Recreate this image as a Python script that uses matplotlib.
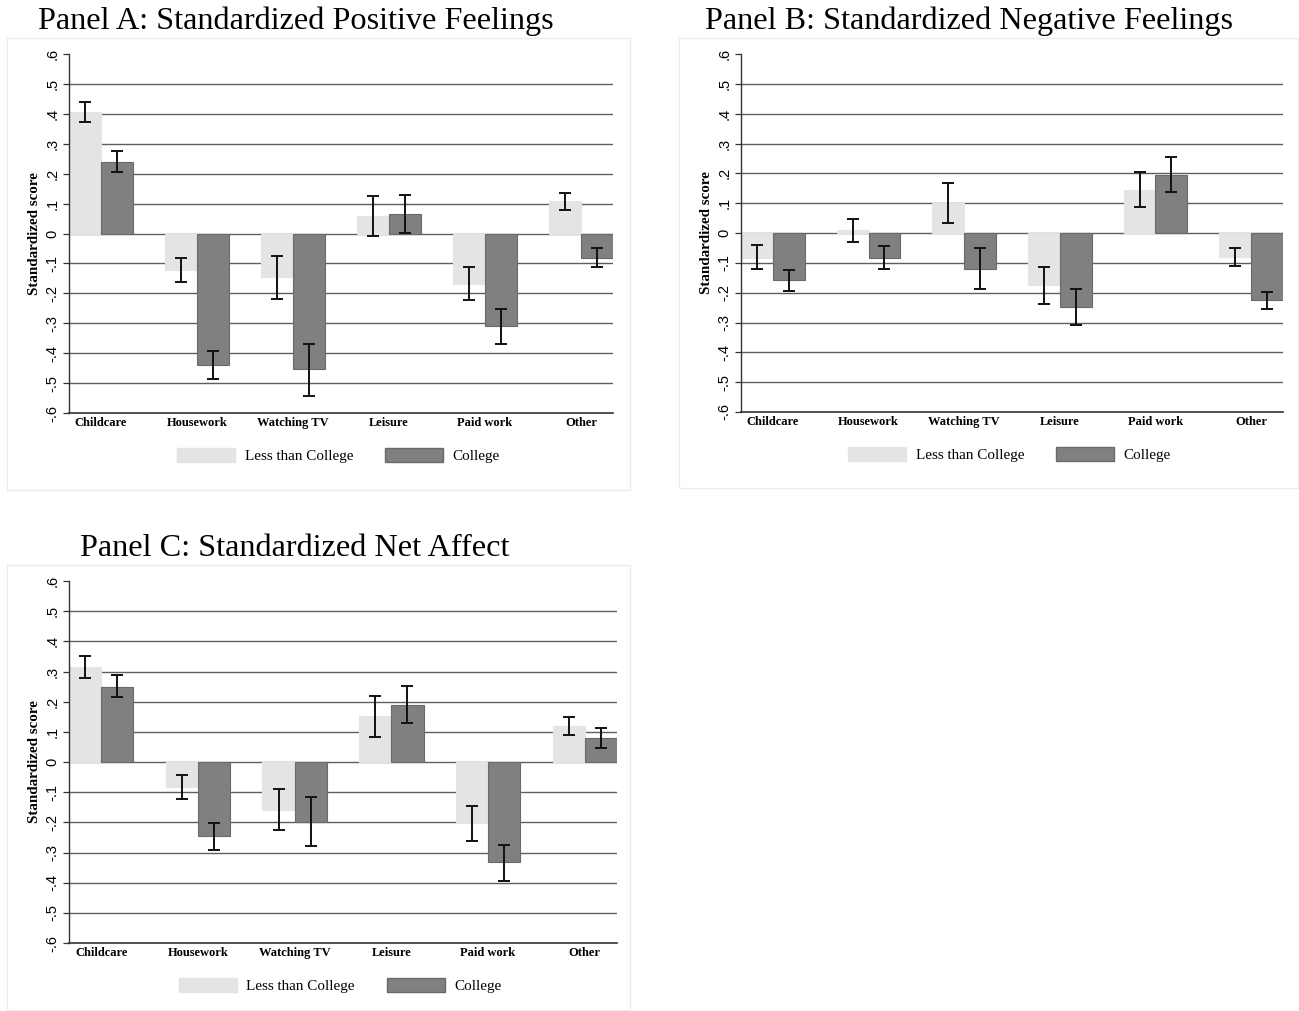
import matplotlib
matplotlib.use("Agg")
import matplotlib.pyplot as plt
from matplotlib.patches import Rectangle, Patch
import numpy as np

categories = ["Childcare", "Housework", "Watching TV", "Leisure", "Paid work", "Other"]
series_names = ["Less than College", "College"]

# Panel A: positive feelings
posA_less = [0.406, -0.121, -0.146, 0.057, -0.168, 0.108]
posA_less_lo = [0.372, -0.163, -0.218, -0.009, -0.223, 0.079]
posA_less_hi = [0.439, -0.081, -0.074, 0.124, -0.112, 0.137]
posA_col = [0.240, -0.440, -0.454, 0.066, -0.310, -0.082]
posA_col_lo = [0.207, -0.488, -0.543, 0.003, -0.370, -0.113]
posA_col_hi = [0.277, -0.394, -0.368, 0.129, -0.254, -0.050]

# Panel B: negative feelings
negB_less = [-0.083, 0.009, 0.099, -0.175, 0.144, -0.080]
negB_less_lo = [-0.122, -0.030, 0.032, -0.238, 0.087, -0.110]
negB_less_hi = [-0.041, 0.048, 0.167, -0.114, 0.204, -0.051]
negB_col = [-0.158, -0.083, -0.119, -0.248, 0.194, -0.225]
negB_col_lo = [-0.195, -0.122, -0.189, -0.310, 0.136, -0.256]
negB_col_hi = [-0.123, -0.042, -0.051, -0.189, 0.256, -0.198]

# Panel C: net affect
netC_less = [0.314, -0.083, -0.158, 0.152, -0.202, 0.119]
netC_less_lo = [0.278, -0.123, -0.225, 0.084, -0.262, 0.089]
netC_less_hi = [0.353, -0.044, -0.090, 0.219, -0.147, 0.148]
netC_col = [0.250, -0.244, -0.200, 0.189, -0.333, 0.079]
netC_col_lo = [0.215, -0.291, -0.280, 0.129, -0.393, 0.048]
netC_col_hi = [0.288, -0.203, -0.117, 0.252, -0.274, 0.113]

ytick_vals = [-0.6, -0.5, -0.4, -0.3, -0.2, -0.1, 0, 0.1, 0.2, 0.3, 0.4, 0.5, 0.6]
ytick_labels = ["-.6", "-.5", "-.4", "-.3", "-.2", "-.1", "0", ".1", ".2", ".3", ".4", ".5", ".6"]

LIGHT = "#e4e4e4"
DARK = "#808080"
DARK_EDGE = "#6a6a6a"
GRID = "#5e5e5e"
SERIF = ["Liberation Serif", "DejaVu Serif"]
SANS = ["Liberation Sans", "DejaVu Sans"]

W, H = 1299, 1011
fig = plt.figure(figsize=(W / 100, H / 100), dpi=100)


def px_axes(x0, y0, x1, y1):
    return fig.add_axes([x0 / W, 1 - y1 / H, (x1 - x0) / W, (y1 - y0) / H])


def frame(x0, y0, x1, y1):
    fig.patches.append(Rectangle((x0 / W, 1 - y1 / H), (x1 - x0) / W, (y1 - y0) / H,
                                 transform=fig.transFigure, fill=False,
                                 edgecolor="#ececec", linewidth=1.0, zorder=0))


def panel(ax, less, less_lo, less_hi, col, col_lo, col_hi):
    x = np.arange(len(categories))
    w = 1 / 3
    less = np.array(less); col = np.array(col)
    ax.bar(x - w / 2, less, width=w, color=LIGHT, edgecolor=LIGHT, linewidth=0.8, zorder=2,
           label=series_names[0])
    ax.bar(x + w / 2, col, width=w, color=DARK, edgecolor=DARK_EDGE, linewidth=0.8, zorder=2,
           label=series_names[1])
    for xs, lo, hi in ((x - w / 2, less_lo, less_hi), (x + w / 2, col_lo, col_hi)):
        lo = np.array(lo); hi = np.array(hi)
        mid = (lo + hi) / 2
        ax.errorbar(xs, mid, yerr=[mid - lo, hi - mid], fmt="none", ecolor="#111111",
                    elinewidth=1.4, capsize=4, capthick=1.4, zorder=3)
    ax.set_xlim(-1 / 3, len(categories) - 1 + 1 / 3)
    ax.set_ylim(-0.6, 0.6)
    for g in ytick_vals[1:-1]:
        ax.axhline(g, color=GRID, linewidth=1.0, zorder=1)
    ax.set_yticks(ytick_vals)
    ax.set_yticklabels(ytick_labels, rotation=90, va="center", family=SANS, fontsize=10.5)
    ax.set_xticks(x)
    ax.set_xticklabels(categories, family=SERIF, fontweight="bold", fontsize=9)
    ax.tick_params(axis="x", length=0, pad=3)
    ax.tick_params(axis="y", length=4, width=0.9, color="#333333", pad=3)
    for s in ("top", "right"):
        ax.spines[s].set_visible(False)
    ax.spines["left"].set_color("#333333")
    ax.spines["bottom"].set_color("#333333")
    ax.spines["left"].set_linewidth(1.0)
    ax.spines["bottom"].set_linewidth(1.2)
    ax.set_ylabel("Standardized score", family=SERIF, fontweight="bold", fontsize=10.8, labelpad=3)
    handles = [Patch(facecolor=LIGHT, edgecolor=LIGHT), Patch(facecolor=DARK, edgecolor=DARK_EDGE)]
    ax.legend(handles, series_names, loc="center", bbox_to_anchor=(0.495, -0.118), ncol=2,
              frameon=False, prop={"family": SERIF, "size": 10.9},
              handlelength=3.85, handleheight=1.05, handletextpad=0.6, columnspacing=2.1)


# frames
frame(7, 38, 630, 490)
frame(679, 38, 1298, 488)
frame(7, 565, 630, 1010)

axA = px_axes(69, 54, 613, 413)
panel(axA, posA_less, posA_less_lo, posA_less_hi, posA_col, posA_col_lo, posA_col_hi)
axB = px_axes(741, 54, 1283, 412)
panel(axB, negB_less, negB_less_lo, negB_less_hi, negB_col, negB_col_lo, negB_col_hi)
axC = px_axes(69, 581, 617, 943)
panel(axC, netC_less, netC_less_lo, netC_less_hi, netC_col, netC_col_lo, netC_col_hi)

fig.text(38 / W, 1 - 21 / H, "Panel A: Standardized Positive Feelings", family=SERIF,
         fontsize=23.2, va="center", ha="left")
fig.text(705 / W, 1 - 21 / H, "Panel B: Standardized Negative Feelings", family=SERIF,
         fontsize=23.2, va="center", ha="left")
fig.text(80 / W, 1 - 549 / H, "Panel C: Standardized Net Affect", family=SERIF,
         fontsize=23.2, va="center", ha="left")

fig.savefig("out.png", dpi=100, facecolor="white")
